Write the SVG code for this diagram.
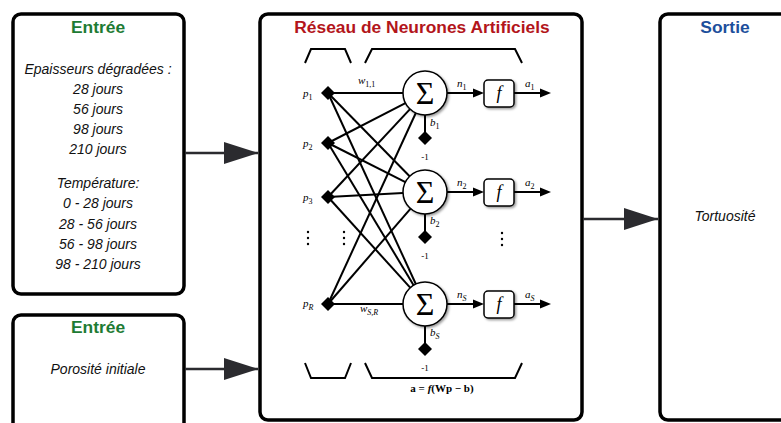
<svg xmlns="http://www.w3.org/2000/svg" width="781" height="423" viewBox="0 0 781 423">
<defs>
<style>
.box{fill:#fff;stroke:#000;stroke-width:3.5}
.title{font-family:"Liberation Sans",Arial,sans-serif;font-weight:bold;font-size:17.4px;text-anchor:middle}
.it{font-family:"Liberation Sans",Arial,sans-serif;font-style:italic;font-size:14px;text-anchor:middle;fill:#111}
.big{stroke:#2b2b2f;stroke-width:2.5;fill:none}
.w{stroke:#000;stroke-width:2;fill:none}
.m{font-family:"Liberation Serif","Times New Roman",serif;font-style:italic;font-size:11px;fill:#000}
.sub{font-size:8px}
.up{font-style:normal}
.neg{font-family:"Liberation Serif","Times New Roman",serif;font-size:9px;text-anchor:middle;fill:#000}
.br{stroke:#000;stroke-width:2;fill:none;stroke-linejoin:miter}
.neu{fill:#fff;stroke:#000;stroke-width:1.5}
.sig{font-family:"Liberation Serif","Times New Roman",serif;font-size:32px;text-anchor:middle}
.fx{font-family:"Liberation Serif","Times New Roman",serif;font-style:italic;font-size:18px;text-anchor:middle}
</style>
<marker id="bigArrow" markerUnits="userSpaceOnUse" markerWidth="34" markerHeight="22" refX="34" refY="11" orient="auto">
<path d="M0,0 L34,11 L0,22 Z" fill="#2b2b2f"/>
</marker>
<filter id="sh" x="-30%" y="-30%" width="160%" height="160%">
<feDropShadow dx="1.5" dy="1.5" stdDeviation="1" flood-color="#000" flood-opacity="0.4"/>
</filter>
<path id="dia" d="M0,-7 L7,0 L0,7 L-7,0 Z" fill="#000"/>
<path id="sarrow" d="M-11,-4.5 L0,0 L-11,4.5 Z" fill="#000"/>
</defs>

<g id="input1">
<rect class="box" x="13" y="14" width="171" height="280" rx="8"/>
<text class="title" x="98" y="33" fill="#1e7b34">Entrée</text>
<text class="it" x="98" y="74">Epaisseurs dégradées :</text>
<text class="it" x="98" y="94">28 jours</text>
<text class="it" x="98" y="114">56 jours</text>
<text class="it" x="98" y="134">98 jours</text>
<text class="it" x="98" y="154">210 jours</text>
<text class="it" x="98" y="188">Température:</text>
<text class="it" x="98" y="208">0 - 28 jours</text>
<text class="it" x="98" y="229">28 - 56 jours</text>
<text class="it" x="98" y="249">56 - 98 jours</text>
<text class="it" x="98" y="269">98 - 210 jours</text>
</g>

<g id="input2">
<rect class="box" x="13" y="315" width="171" height="130" rx="8"/>
<text class="title" x="98" y="333" fill="#1e7b34">Entrée</text>
<text class="it" x="98" y="374">Porosité initiale</text>
</g>

<g id="network">
<rect class="box" x="260" y="14" width="322" height="406" rx="8"/>
<text class="title" x="422" y="33" fill="#b3151b">Réseau de Neurones Artificiels</text>
<path class="br" d="M305,63 L311,49 L345,49 L351,63"/>
<path class="br" d="M365,63 L372,49 L515,49 L522,63"/>
<path class="br" d="M305,363 L311,378 L345,378 L351,363"/>
<path class="br" d="M365,363 L372,378 L515,378 L522,363"/>
<g class="w">
<line x1="328" y1="93" x2="403" y2="93"/>
<line x1="328" y1="143" x2="405.4" y2="103.1"/>
<line x1="328" y1="197" x2="410" y2="109.1"/>
<line x1="328" y1="304" x2="415.8" y2="113"/>
<line x1="328" y1="93" x2="409.6" y2="176.3"/>
<line x1="328" y1="143" x2="405.4" y2="182.1"/>
<line x1="328" y1="197" x2="403" y2="193.1"/>
<line x1="328" y1="304" x2="410.6" y2="208.6"/>
<line x1="328" y1="93" x2="415.8" y2="284"/>
<line x1="328" y1="143" x2="413.6" y2="285.2"/>
<line x1="328" y1="197" x2="410.2" y2="287.7"/>
<line x1="328" y1="304" x2="403" y2="304"/>
<line x1="425" y1="115" x2="425" y2="138"/>
<line x1="425" y1="214" x2="425" y2="237"/>
<line x1="425" y1="326" x2="425" y2="349"/>
<line x1="447" y1="93" x2="474" y2="93"/>
<line x1="514" y1="93" x2="541" y2="93"/>
<line x1="447" y1="192" x2="474" y2="192"/>
<line x1="514" y1="192" x2="541" y2="192"/>
<line x1="447" y1="304" x2="474" y2="304"/>
<line x1="514" y1="304" x2="541" y2="304"/>
</g>
<use href="#sarrow" x="484" y="93"/>
<use href="#sarrow" x="551" y="93"/>
<use href="#sarrow" x="484" y="192"/>
<use href="#sarrow" x="551" y="192"/>
<use href="#sarrow" x="484" y="304"/>
<use href="#sarrow" x="551" y="304"/>
<use href="#dia" x="328" y="93"/>
<use href="#dia" x="328" y="143"/>
<use href="#dia" x="328" y="197"/>
<use href="#dia" x="328" y="304"/>
<use href="#dia" x="425" y="138"/>
<use href="#dia" x="425" y="237"/>
<use href="#dia" x="425" y="349"/>
<g filter="url(#sh)">
<circle class="neu" cx="425" cy="93" r="22"/>
<circle class="neu" cx="425" cy="192" r="22"/>
<circle class="neu" cx="425" cy="304" r="22"/>
<rect class="neu" x="484" y="80" width="30" height="27" rx="4"/>
<rect class="neu" x="484" y="179" width="30" height="27" rx="4"/>
<rect class="neu" x="484" y="291" width="30" height="27" rx="4"/>
</g>
<text class="sig" x="425" y="104">Σ</text>
<text class="sig" x="425" y="203">Σ</text>
<text class="sig" x="425" y="315">Σ</text>
<text class="fx" x="499" y="99">f</text>
<text class="fx" x="499" y="198">f</text>
<text class="fx" x="499" y="310">f</text>
<text class="m" x="303" y="97">p<tspan class="sub up" dy="3">1</tspan></text>
<text class="m" x="303" y="147">p<tspan class="sub up" dy="3">2</tspan></text>
<text class="m" x="303" y="201">p<tspan class="sub up" dy="3">3</tspan></text>
<text class="m" x="303" y="307">p<tspan class="sub" dy="3">R</tspan></text>
<text class="m" x="358" y="84">w<tspan class="sub up" dy="3">1,1</tspan></text>
<text class="m" x="360" y="312">w<tspan class="sub" dy="3">S,R</tspan></text>
<text class="m" x="457" y="87">n<tspan class="sub up" dy="3">1</tspan></text>
<text class="m" x="457" y="186">n<tspan class="sub up" dy="3">2</tspan></text>
<text class="m" x="457" y="298">n<tspan class="sub" dy="3">S</tspan></text>
<text class="m" x="525" y="87">a<tspan class="sub up" dy="3">1</tspan></text>
<text class="m" x="525" y="186">a<tspan class="sub up" dy="3">2</tspan></text>
<text class="m" x="525" y="298">a<tspan class="sub" dy="3">S</tspan></text>
<text class="m" x="430" y="126">b<tspan class="sub up" dy="3">1</tspan></text>
<text class="m" x="430" y="224">b<tspan class="sub up" dy="3">2</tspan></text>
<text class="m" x="430" y="336">b<tspan class="sub" dy="3">S</tspan></text>
<text class="neg" x="425" y="160">-1</text>
<text class="neg" x="425" y="259">-1</text>
<text class="neg" x="425" y="371">-1</text>
<g fill="#000">
<circle cx="308" cy="232" r="1.2"/><circle cx="308" cy="238" r="1.2"/><circle cx="308" cy="244" r="1.2"/>
<circle cx="344" cy="232" r="1.2"/><circle cx="344" cy="238" r="1.2"/><circle cx="344" cy="244" r="1.2"/>
<circle cx="502" cy="233" r="1.2"/><circle cx="502" cy="239" r="1.2"/><circle cx="502" cy="245" r="1.2"/>
</g>
<text x="442" y="392" font-family="'Liberation Serif','Times New Roman',serif" font-size="11" font-weight="bold" text-anchor="middle">a = <tspan font-style="italic">f</tspan>(Wp − b)</text>
</g>

<g id="output">
<rect class="box" x="660" y="14" width="140" height="406" rx="8"/>
<text class="title" x="725" y="33" fill="#1d4f9c">Sortie</text>
<text class="it" x="725" y="221">Tortuosité</text>
</g>

<g id="connectors">
<line class="big" x1="185" y1="153" x2="258" y2="153" marker-end="url(#bigArrow)"/>
<line class="big" x1="185" y1="369" x2="258" y2="369" marker-end="url(#bigArrow)"/>
<line class="big" x1="583" y1="219" x2="658" y2="219" marker-end="url(#bigArrow)"/>
</g>
</svg>
